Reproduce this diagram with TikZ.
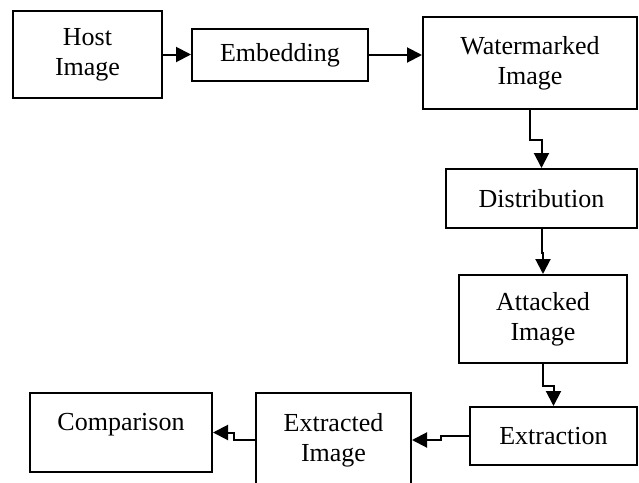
\documentclass[tikz,border=0pt]{standalone}
\usepackage{fontspec}
\setmainfont{Liberation Serif}
\usetikzlibrary{arrows.meta}

\begin{document}
\begin{tikzpicture}[x=0.5pt,y=-0.5pt,font=\fontsize{13}{15}\selectfont]
\useasboundingbox (0,0) rectangle (639,483);

\tikzstyle{Box}=[draw,line width=1pt,align=center,inner sep=0pt]
\tikzstyle{EdgeStyle}=[line width=1pt,-{Triangle[length=7.5pt,width=7.5pt]}]

\node[Box,minimum width=74.5pt,minimum height=43.5pt] (host) at (87.5,54.5) {Host\\Image};
\node[Box,minimum width=88pt,minimum height=26pt] (embed) at (280,55) {Embedding};
\node[Box,minimum width=107pt,minimum height=46pt] (water) at (530,63) {Watermarked\\Image};

\node[Box,minimum width=95.5pt,minimum height=29.5pt] (distr) at (541.5,198.5) {Distribution};
\node[Box,minimum width=84pt,minimum height=44pt] (attack) at (543,319) {Attacked\\Image};

\node[Box,minimum width=83.5pt,minimum height=29pt] (extraction) at (553.5,436) {Extraction};
\node[Box,minimum width=77.5pt,minimum height=47pt] (extracted) at (333.5,440) {Extracted\\Image};
\node[Box,minimum width=91pt,text height=18.5pt,text depth=21pt] (comparison) at (121,432.5) {Comparison};

\draw[EdgeStyle] (host.east) -- (host.east -| embed.west);
\draw[EdgeStyle] (embed.east) -- (embed.east -| water.west);
\draw[EdgeStyle] (water.south) -- ++(0,30) -| (distr.north);
\draw[EdgeStyle] (distr.south) -- ++(0,24) -| (attack.north);
\draw[EdgeStyle] (attack.south) -- ++(0,22) -| (extraction.north);
\draw[EdgeStyle] (extraction.west) -- ++(-28,0) |- (extracted.east);
\draw[EdgeStyle] (extracted.west) -- ++(-21,0) |- (comparison.east);

\end{tikzpicture}
\end{document}
